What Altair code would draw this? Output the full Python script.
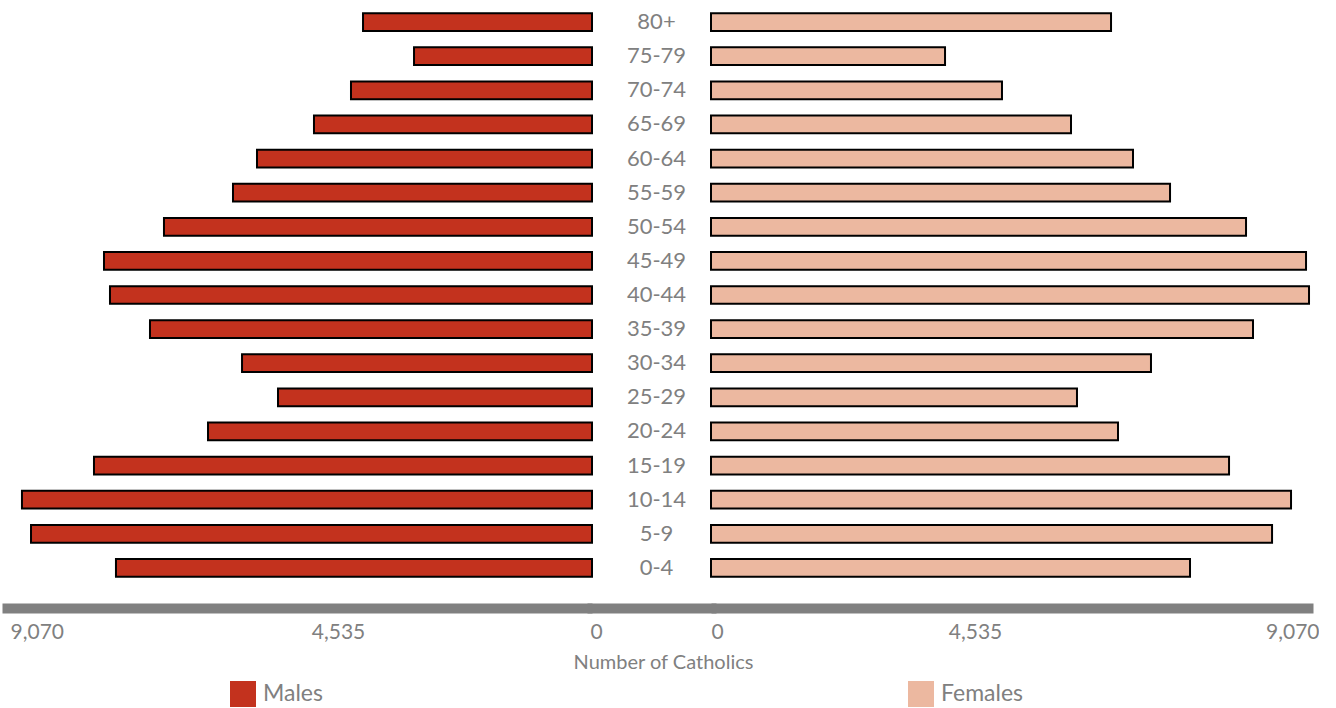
import altair as alt
import pandas as pd

ages = ["0-4", "5-9", "10-14", "15-19", "20-24", "25-29", "30-34", "35-39", "40-44",
        "45-49", "50-54", "55-59", "60-64", "65-69", "70-74", "75-79", "80+"]
males = [7318, 8624, 8763, 7656, 5903, 4827, 5380, 6795, 7410, 7502, 6580, 5519, 5150,
         4274, 3705, 2736, 3520]
females = [7217, 8453, 8739, 7805, 6132, 5514, 6629, 8166, 9010, 8965, 8061, 6916, 6358,
           5424, 4384, 3526, 6027]
tick_values = [0, 4535, 9070]
axis_max = 9070
sexes = ["Males", "Females"]
colors = ["#c3321e", "#ecb8a0"]

df = pd.DataFrame({
    "age": ages * 2,
    "sex": ["Males"] * len(ages) + ["Females"] * len(ages),
    "count": males + females,
})
order = ages[::-1]

FONT = "Lato"
GRAY = "#808080"
H = 580

yenc = alt.Y("age:N", sort=order, axis=None,
             scale=alt.Scale(paddingInner=0.48, paddingOuter=0.24))
color = alt.Color(
    "sex:N",
    scale=alt.Scale(domain=sexes, range=colors),
    legend=alt.Legend(
        orient="none", legendX=228, legendY=676, direction="horizontal",
        title=None, symbolType="square", symbolSize=676, symbolStrokeWidth=0,
        symbolOpacity=1, labelFont=FONT, labelFontSize=23, labelColor=GRAY,
        labelOffset=7, columnPadding=585, padding=0,
    ),
)

base = alt.Chart(df)

left = base.transform_filter(alt.datum.sex == "Males").mark_bar(
    stroke="black", strokeWidth=2, opacity=1
).encode(
    x=alt.X("count:Q",
            scale=alt.Scale(domain=[0, axis_max], reverse=True, nice=False, zero=True),
            axis=alt.Axis(
                values=tick_values, format=",d", title=None,
                labelAlign={"condition": {"test": "datum.value == 9070", "value": "left"},
                            "value": "center"},
                labelOffset={"condition": [
                    {"test": "datum.value == 9070", "value": 8},
                    {"test": "datum.value == 4535", "value": 41}],
                    "value": 4},
            )),
    y=yenc,
    color=color,
).properties(width=590, height=H)

mid = base.transform_filter(alt.datum.sex == "Males").mark_text(
    font=FONT, fontSize=22, color=GRAY, dx=5
).encode(
    x=alt.XDatum(0.5, type="quantitative", scale=alt.Scale(domain=[0, 1]),
                 axis=alt.Axis(labels=False, title="Number of Catholics", titleX=71,
                               titlePadding=44, domainCap="square")),
    y=yenc,
    text="age:N",
).properties(width=119, height=H)

right = base.transform_filter(alt.datum.sex == "Females").mark_bar(
    stroke="black", strokeWidth=2, opacity=1
).encode(
    x=alt.X("count:Q",
            scale=alt.Scale(domain=[0, axis_max], nice=False, zero=True),
            axis=alt.Axis(
                values=tick_values, format=",d", title=None, labelFlush=True,
                labelOffset={"condition": [
                    {"test": "datum.value == 9070", "value": 6},
                    {"test": "datum.value == 4535", "value": -37}],
                    "value": 0},
            )),
    y=yenc,
    color=color,
).properties(width=602, height=H)

chart = alt.hconcat(left, mid, right, spacing=0, bounds="flush").resolve_scale(
    x="independent", y="shared"
).properties(
    padding={"left": 2, "top": 5, "right": 0, "bottom": 0}
).configure_view(stroke=None).configure_axis(
    domainColor=GRAY, domainWidth=10, ticks=False, grid=False,
    labelColor=GRAY, labelFont=FONT, labelFontSize=21, offset=23, labelPadding=13,
    titleColor=GRAY, titleFont=FONT, titleFontSize=20, titleFontWeight="normal",
)

chart.save("out.html", embed_options={"renderer": "svg", "actions": False})
